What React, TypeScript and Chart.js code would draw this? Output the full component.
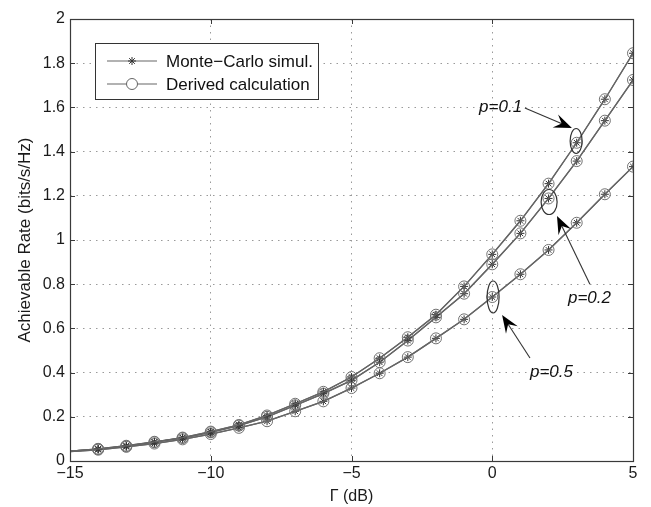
import React, { useEffect, useRef } from "react";
import { Chart, registerables } from "chart.js";

Chart.register(...registerables);

// ---- data ----
const gammaDb = [-15, -14, -13, -12, -11, -10, -9, -8, -7, -6, -5, -4, -3, -2, -1, 0, 1, 2, 3, 4, 5];
const rateP01 = [0.045, 0.055, 0.069, 0.087, 0.106, 0.133, 0.163, 0.206, 0.259, 0.313, 0.38, 0.465, 0.56, 0.662, 0.79, 0.935, 1.087, 1.255, 1.44, 1.637, 1.845];
const rateP02 = [0.044, 0.054, 0.067, 0.085, 0.104, 0.13, 0.16, 0.2, 0.252, 0.305, 0.365, 0.447, 0.545, 0.65, 0.757, 0.89, 1.03, 1.188, 1.357, 1.54, 1.724];
const rateP05 = [0.042, 0.051, 0.064, 0.079, 0.098, 0.122, 0.15, 0.18, 0.225, 0.27, 0.33, 0.397, 0.47, 0.555, 0.641, 0.742, 0.845, 0.955, 1.078, 1.207, 1.332];
const seriesNames = ["Monte\u2212Carlo simul.", "Derived calculation"];
const curveLabels = ["p=0.1", "p=0.2", "p=0.5"];
const xTitle = "\u0393 (dB)";
const yTitle = "Achievable Rate (bits/s/Hz)";

const FONT = "'Liberation Sans', Arial, Helvetica, sans-serif";
const LINE_COLOR = "#666666";
const STAR_COLOR = "#333333";

// annotation anchors in data units
const annotations = [
  { label: curveLabels[0], ell: [2.98, 1.448], rx: 6, ry: 12.5, from: [1.16, 1.597], to: [2.83, 1.507], text: [1.06, 1.6], align: "right" },
  { label: curveLabels[1], ell: [2.02, 1.172], rx: 8, ry: 12.5, from: [3.47, 0.8], to: [2.3, 1.109], text: [2.69, 0.738], align: "left" },
  { label: curveLabels[2], ell: [0.03, 0.742], rx: 6, ry: 16, from: [1.34, 0.466], to: [0.35, 0.661], text: [1.34, 0.403], align: "left" },
];

function toPts(vals: number[]) {
  return gammaDb.map((g, i) => ({ x: g, y: vals[i] }));
}

function drawArrow(ctx: CanvasRenderingContext2D, x0: number, y0: number, x1: number, y1: number) {
  const dx = x1 - x0, dy = y1 - y0;
  const len = Math.hypot(dx, dy);
  const ux = dx / len, uy = dy / len;
  const hl = 18, hw = 7;
  ctx.strokeStyle = "#333";
  ctx.lineWidth = 1.1;
  ctx.beginPath();
  ctx.moveTo(x0, y0);
  ctx.lineTo(x1 - ux * hl * 0.6, y1 - uy * hl * 0.6);
  ctx.stroke();
  const bx = x1 - ux * hl, by = y1 - uy * hl;
  const nx = -uy, ny = ux;
  ctx.fillStyle = "#000";
  ctx.beginPath();
  ctx.moveTo(x1, y1);
  ctx.lineTo(bx + nx * hw, by + ny * hw);
  ctx.lineTo(x1 - ux * hl * 0.62, y1 - uy * hl * 0.62);
  ctx.lineTo(bx - nx * hw, by - ny * hw);
  ctx.closePath();
  ctx.fill();
}

const overlayPlugin = {
  id: "overlay",
  afterDraw(chart: any) {
    const { ctx, chartArea: a, scales } = chart;
    const xs = scales.x, ys = scales.y;
    ctx.save();
    // axes box
    ctx.strokeStyle = "#3a3a3a";
    ctx.lineWidth = 1.2;
    ctx.strokeRect(Math.round(a.left) + 0.5, Math.round(a.top) + 0.5, Math.round(a.right - a.left), Math.round(a.bottom - a.top));
    // inward ticks
    const tl = 5;
    ctx.lineWidth = 1;
    ctx.beginPath();
    xs.ticks.forEach((t: any) => {
      const px = Math.round(xs.getPixelForValue(t.value)) + 0.5;
      ctx.moveTo(px, a.bottom); ctx.lineTo(px, a.bottom - tl);
      ctx.moveTo(px, a.top); ctx.lineTo(px, a.top + tl);
    });
    ys.ticks.forEach((t: any) => {
      const py = Math.round(ys.getPixelForValue(t.value)) + 0.5;
      ctx.moveTo(a.left, py); ctx.lineTo(a.left + tl, py);
      ctx.moveTo(a.right, py); ctx.lineTo(a.right - tl, py);
    });
    ctx.stroke();

    // annotations
    annotations.forEach((an) => {
      const ex = xs.getPixelForValue(an.ell[0]);
      const ey = ys.getPixelForValue(an.ell[1]);
      ctx.strokeStyle = "#333";
      ctx.lineWidth = 1.2;
      ctx.beginPath();
      ctx.ellipse(ex, ey, an.rx, an.ry, 0, 0, Math.PI * 2);
      ctx.stroke();
      drawArrow(
        ctx,
        xs.getPixelForValue(an.from[0]), ys.getPixelForValue(an.from[1]),
        xs.getPixelForValue(an.to[0]), ys.getPixelForValue(an.to[1])
      );
      ctx.fillStyle = "#111";
      ctx.font = `italic 17px ${FONT}`;
      ctx.textAlign = an.align as CanvasTextAlign;
      ctx.textBaseline = "middle";
      ctx.fillText(an.label, xs.getPixelForValue(an.text[0]), ys.getPixelForValue(an.text[1]));
    });

    // legend
    const lx = a.left + 25, ly = a.top + 24, lw = 223, lh = 56;
    ctx.fillStyle = "#fff";
    ctx.fillRect(lx, ly, lw, lh);
    ctx.strokeStyle = "#333";
    ctx.lineWidth = 1;
    ctx.strokeRect(Math.round(lx) + 0.5, Math.round(ly) + 0.5, lw, lh);
    const rows = [ly + 18, ly + 41];
    rows.forEach((ry, i) => {
      ctx.strokeStyle = LINE_COLOR;
      ctx.lineWidth = 1.2;
      ctx.beginPath();
      ctx.moveTo(lx + 12, ry);
      ctx.lineTo(lx + 62, ry);
      ctx.stroke();
      const mx = lx + 37;
      if (i === 0) {
        ctx.strokeStyle = STAR_COLOR;
        ctx.lineWidth = 1;
        const r = 4;
        ctx.beginPath();
        ctx.moveTo(mx - r, ry); ctx.lineTo(mx + r, ry);
        ctx.moveTo(mx, ry - r); ctx.lineTo(mx, ry + r);
        const d = r * Math.SQRT1_2;
        ctx.moveTo(mx - d, ry - d); ctx.lineTo(mx + d, ry + d);
        ctx.moveTo(mx - d, ry + d); ctx.lineTo(mx + d, ry - d);
        ctx.stroke();
      } else {
        ctx.fillStyle = "#fff";
        ctx.strokeStyle = LINE_COLOR;
        ctx.lineWidth = 1;
        ctx.beginPath();
        ctx.arc(mx, ry, 5.5, 0, Math.PI * 2);
        ctx.fill();
        ctx.stroke();
      }
      ctx.fillStyle = "#111";
      ctx.font = `17px ${FONT}`;
      ctx.textAlign = "left";
      ctx.textBaseline = "middle";
      ctx.fillText(seriesNames[i], lx + 71, ry + 1);
    });
    ctx.restore();
  },
};

export default function App() {
  const ref = useRef<HTMLCanvasElement | null>(null);
  useEffect(() => {
    if (!ref.current) return;
    const curves = [rateP01, rateP02, rateP05];
    const datasets: any[] = [];
    curves.forEach((vals) => {
      datasets.push({
        label: seriesNames[1],
        data: toPts(vals),
        borderColor: LINE_COLOR,
        borderWidth: 1.3,
        pointStyle: "circle",
        pointRadius: (c: any) => (c.dataIndex === 0 ? 0 : 5.5),
        pointBorderColor: "#707070",
        pointBackgroundColor: "rgba(0,0,0,0)",
        pointBorderWidth: 1,
        tension: 0,
        fill: false,
      });
      datasets.push({
        label: seriesNames[0],
        data: toPts(vals),
        borderColor: LINE_COLOR,
        borderWidth: 1.3,
        pointStyle: "star",
        pointRadius: (c: any) => (c.dataIndex === 0 ? 0 : 4),
        pointBorderColor: STAR_COLOR,
        pointBackgroundColor: STAR_COLOR,
        pointBorderWidth: 1,
        tension: 0,
        fill: false,
      });
    });
    const chart = new Chart(ref.current, {
      type: "line",
      data: { datasets },
      options: {
        responsive: false,
        animation: false,
        layout: { padding: { top: 19, right: 18, left: 0, bottom: 0 } },
        plugins: { legend: { display: false }, tooltip: { enabled: false } },
        scales: {
          x: {
            type: "linear",
            min: -15,
            max: 5,
            ticks: {
              stepSize: 5,
              maxRotation: 0,
              padding: 3,
              color: "#1a1a1a",
              font: { family: FONT, size: 16 },
              callback: (v: any) => (Number(v) < 0 ? "\u2212" + Math.abs(Number(v)) : String(v)),
            },
            grid: { color: "#9a9a9a", drawTicks: false, lineWidth: 1 },
            border: { display: false, dash: [1.5, 5] },
            title: { display: true, text: xTitle, color: "#1a1a1a", font: { family: FONT, size: 16 }, padding: { top: 0, bottom: 1 } },
            afterFit: (s: any) => { s.height = 46; },
          },
          y: {
            type: "linear",
            min: 0,
            max: 2,
            ticks: {
              stepSize: 0.2,
              padding: 5,
              color: "#1a1a1a",
              font: { family: FONT, size: 16 },
              callback: (v: any) => String(Math.round(Number(v) * 10) / 10),
            },
            grid: { color: "#9a9a9a", drawTicks: false, lineWidth: 1 },
            border: { display: false, dash: [1.5, 5] },
            title: { display: true, text: yTitle, color: "#1a1a1a", font: { family: FONT, size: 17 }, padding: { top: 15, bottom: 0 } },
            afterFit: (s: any) => { s.width = 70; },
          },
        },
      },
      plugins: [overlayPlugin],
    });
    return () => chart.destroy();
  }, []);
  return (
    <div style={{ position: "absolute", left: 0, top: 0, width: 651, height: 507, background: "#fff" }}>
      <canvas ref={ref} width={651} height={507} style={{ display: "block" }} />
    </div>
  );
}
